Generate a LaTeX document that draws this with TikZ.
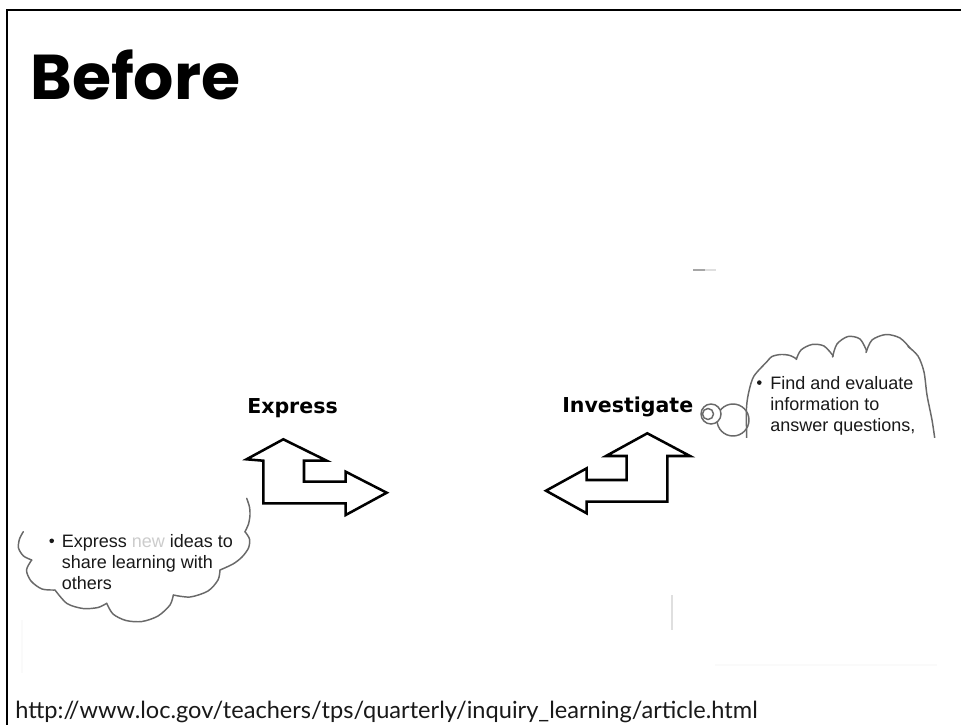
\documentclass[tikz,border=0pt]{standalone}
\usepackage{fontspec}
\setmainfont{Liberation Sans}
\newfontfamily\titlefont{Poppins}
\newfontfamily\labelfont{DejaVu Sans}
\newfontfamily\urlfont{Lato}
\definecolor{cloudgray}{RGB}{105,105,105}
\definecolor{textdark}{RGB}{25,25,25}
\tikzset{
  arrowshape/.style={draw=black, line width=1.9pt, line join=miter, fill=white},
  cloudline/.style={draw=cloudgray, line width=1.1pt, line cap=round},
  lbl/.style={font=\labelfont\bfseries\fontsize{15.4pt}{18pt}\selectfont, inner sep=0pt, anchor=base west},
  ctext/.style={font=\fontsize{13.5pt}{15.75pt}\selectfont, text=textdark, inner sep=0pt, anchor=base west},
}
\begin{document}
\begin{tikzpicture}[x=0.75pt,y=-0.75pt]
\useasboundingbox (0,0) rectangle (961,725);
\fill[white] (0,0) rectangle (961,725);
% frame
\draw[line width=1.5pt] (6.5,725) -- (6.5,10) -- (961,10);
% title
\node[font=\titlefont\bfseries\fontsize{47.5pt}{55pt}\selectfont, inner sep=0pt, anchor=base west] (title) at (30,99) {Before};
% faint marks
\draw[gray!70, line width=1.5pt] (693,270) -- (705,270);
\draw[gray!25, line width=1.5pt] (705,270) -- (716,270);
\draw[gray!25, line width=1.2pt] (672,595) -- (672,630);
\draw[gray!4, line width=1pt] (715,665) -- (937,665);
\draw[gray!4, line width=1pt] (22,620) -- (22,673);
% Express arrow
\draw[arrowshape] (246.5,459.3) -- (283.3,439.3) -- (326.7,460.7) -- (304,460.7) -- (304,481.7)
  -- (345.7,481.7) -- (345.7,471.7) -- (386.7,492.7) -- (345.7,515) -- (345.7,503.3)
  -- (263.3,503.3) -- (263.3,460.7) -- cycle;
% Investigate arrow
\draw[arrowshape] (546,490.7) -- (586.7,468.3) -- (586.7,480) -- (626.7,480) -- (626.7,456)
  -- (606,456) -- (647.3,433.3) -- (690,456) -- (667.3,456) -- (667.3,501.7)
  -- (586.7,501.7) -- (586.7,513.3) -- cycle;
% labels
\node[lbl] (exlabel) at (247,413) {Express};
\node[lbl] (invlabel) at (562,412) {Investigate};
% right cloud (clipped)
\begin{scope}
\clip (680,250) rectangle (945,437);
\draw[cloudline, fill=white] (733,420) circle (16);
\draw[cloudline, fill=white] (711,414) circle (10);
\draw[cloudline] (708,414) circle (5.5);
\draw[cloudline] plot[smooth] coordinates {(746.7,440) (746.5,408) (749,391) (754,376) (766.7,362)};
\draw[cloudline] plot[smooth] coordinates {(766.7,362) (772,356.5) (781,354.5) (790,355.5) (796.7,359)};
\draw[cloudline] plot[smooth] coordinates {(796.2,359.5) (801,350) (812,344.5) (824,346) (833.3,356)};
\draw[cloudline] plot[smooth] coordinates {(832.5,357) (837,344) (848,336.5) (860,339) (866.7,351)};
\draw[cloudline] plot[smooth] coordinates {(866,352.5) (872,340) (886,334.5) (900,338) (910,348)};
\draw[cloudline] plot[smooth] coordinates {(908,346.5) (918,356) (924,372) (927,395) (932,420) (935,440)};
\end{scope}
\fill[textdark] (759.3,382.6) circle (2.3);
\node[ctext] (r1) at (770,389.3) {Find and evaluate};
\node[ctext] (r2) at (770,410.3) {information to};
\node[ctext] (r3) at (770,431.3) {answer questions,};
% left cloud
\draw[cloudline] plot[smooth] coordinates {(246.7,498.3) (249.5,507) (250,515) (248.5,524) (245,531.7)};
\draw[cloudline] plot[smooth] coordinates {(245,531.7) (249.5,539) (248.5,548) (242,557) (233,564) (220,570)};
\draw[cloudline] plot[smooth] coordinates {(220,570) (218,580) (208,591) (190,597) (173.3,595)};
\draw[cloudline] plot[smooth] coordinates {(173.3,595) (170,605) (158,616) (142,621.5) (126,620.5) (113,614) (106.7,603.3)};
\draw[cloudline] plot[smooth] coordinates {(106.7,603.3) (98,607.5) (83,608.5) (67,603.5) (55,590)};
\draw[cloudline] plot[smooth] coordinates {(55,590) (42,589) (31,581) (26.5,570) (31.7,560)};
\draw[cloudline] plot[smooth] coordinates {(31.7,560) (23.5,556) (18.5,548) (19.5,539) (23.3,531.7)};
\fill[textdark] (51.7,540.8) circle (2.3);
\node[ctext] (l1) at (61.5,547.5) {Express \textcolor{gray!40}{new} ideas to};
\node[ctext] (l2) at (61.5,568.5) {share learning with};
\node[ctext] (l3) at (61.5,589.5) {others};
% url
\node[font=\urlfont\fontsize{17.7pt}{20pt}\selectfont, inner sep=0pt, anchor=base west, text=black!90] (url) at (15,718) {http://www.loc.gov/teachers/tps/quarterly/inquiry\_learning/article.html};
\end{tikzpicture}
\end{document}
